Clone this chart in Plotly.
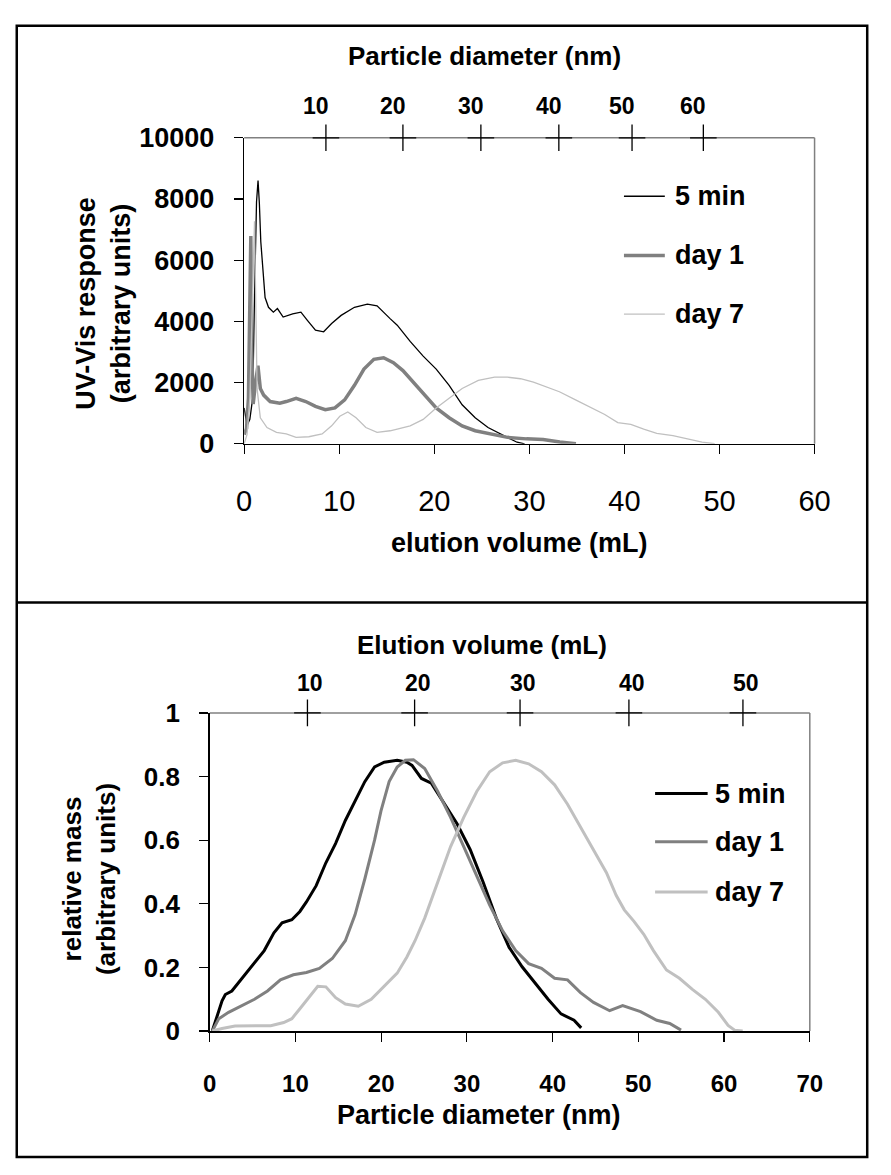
import plotly.graph_objects as go

# ---------------- data: top panel (UV-Vis vs elution volume) ----------------
top_5min_ml = [0, 0.17, 0.3, 0.6, 0.9, 1.1, 1.3, 1.46, 1.6, 1.75, 1.98, 2.2, 2.56, 3.07, 3.5, 4.1, 5.1,
               5.97, 6.65, 7.5, 8.36, 9.2, 10.2, 11.6, 12.96, 13.98, 15.35, 16.1, 17.46, 18.83, 20.2,
               21.56, 22.93, 24.3, 25.65, 26.67, 27.7, 28.7, 29.5]
top_5min_uv = [1170, 850, 600, 800, 1500, 5000, 7900, 8600, 7850, 6600, 5520, 4780, 4460, 4300, 4420,
               4140, 4245, 4300, 4035, 3715, 3660, 3930, 4195, 4460, 4565, 4510, 4090, 3875, 3345, 2865,
               2440, 1910, 1275, 850, 530, 370, 210, 50, 0]

top_day1_ml = [0, 0.25, 0.45, 0.6, 0.7, 0.8, 0.95, 1.2, 1.45, 1.7, 2.05, 2.73, 3.75, 4.43, 5.46, 6.48,
               7.5, 8.53, 9.55, 10.57, 11.6, 12.6, 13.64, 14.67, 15.7, 16.7, 17.46, 18.83, 20.2, 21.56,
               22.93, 24.3, 26.0, 27.7, 29.7, 31.45, 33.2, 34.9]
top_day1_uv = [300, 500, 1500, 5000, 6790, 3000, 1300, 2000, 2550, 1805, 1590, 1380, 1325, 1380, 1485,
               1380, 1220, 1115, 1170, 1435, 1910, 2440, 2760, 2810, 2650, 2390, 2125, 1645, 1170, 850,
               585, 425, 320, 210, 160, 140, 55, 0]

top_day7_ml = [0, 0.3, 0.6, 0.85, 1.09, 1.25, 1.36, 1.7, 2.4, 3.4, 4.43, 5.46, 6.8, 8.2, 9.2, 10.06,
               10.9, 11.77, 12.8, 13.98, 15.35, 16.1, 17.46, 18.83, 20.2, 21.56, 22.93, 24.63, 26.34,
               27.7, 29.07, 30.43, 31.8, 33.16, 34.86, 36.57, 37.93, 39.3, 40.67, 42.03, 43.4, 45.1,
               46.8, 48.17, 49.5]
top_day7_uv = [0, 300, 1500, 4500, 7270, 4000, 1800, 850, 530, 370, 320, 210, 230, 320, 585, 900,
               1040, 850, 530, 370, 425, 480, 585, 795, 1170, 1485, 1805, 2070, 2175, 2175, 2125,
               2015, 1855, 1700, 1435, 1170, 955, 690, 635, 480, 340, 265, 160, 55, 0]

# secondary (top) axis of top panel: particle diameter ticks at elution volumes
top_axis_nm = [10, 20, 30, 40, 50, 60]
top_axis_ml = [8.6, 16.7, 24.9, 33.1, 40.8, 48.3]

# ---------------- data: bottom panel (relative mass vs diameter) ----------------
bot_5min_nm = [0.3, 0.87, 1.44, 1.82, 2.58, 3.33, 4.09, 5.22, 6.36, 7.49, 8.44, 9.58, 10.52, 11.28,
               12.42, 13.55, 14.69, 15.82, 16.96, 18.09, 19.23, 20.36, 21.87, 23.0, 23.6, 24.7, 25.85,
               27.36, 28.87, 30.39, 31.9, 33.42, 34.93, 36.44, 37.96, 39.47, 40.98, 42.5, 43.33]
bot_5min_m = [0, 0.049, 0.095, 0.115, 0.126, 0.151, 0.177, 0.212, 0.253, 0.309, 0.34, 0.35, 0.376,
              0.406, 0.457, 0.529, 0.59, 0.662, 0.723, 0.784, 0.83, 0.845, 0.851, 0.845, 0.835, 0.794,
              0.779, 0.713, 0.651, 0.57, 0.468, 0.355, 0.263, 0.202, 0.151, 0.1, 0.054, 0.034, 0.01]

bot_day1_nm = [0.3, 1.06, 2.2, 3.71, 5.22, 6.74, 8.25, 9.76, 11.28, 12.79, 14.3, 15.82, 16.96, 18.09,
               19.23, 19.98, 20.93, 21.87, 22.82, 23.77, 25.08, 26.6, 28.1, 29.63, 31.15, 32.66, 34.17,
               35.69, 37.2, 38.7, 40.23, 41.74, 43.25, 44.77, 46.65, 48.17, 50.25, 52.15, 53.66, 54.98]
bot_day1_m = [0, 0.039, 0.059, 0.08, 0.1, 0.126, 0.161, 0.177, 0.184, 0.197, 0.228, 0.284, 0.366,
              0.478, 0.6, 0.692, 0.784, 0.83, 0.851, 0.853, 0.825, 0.753, 0.672, 0.58, 0.488, 0.396,
              0.315, 0.253, 0.212, 0.197, 0.166, 0.161, 0.121, 0.09, 0.064, 0.08, 0.061, 0.034, 0.024,
              0.003]

bot_day7_nm = [0.3, 1.44, 2.95, 4.85, 7.12, 8.63, 9.58, 10.52, 11.66, 12.6, 13.55, 14.69, 15.82, 17.33,
               18.84, 20.36, 21.87, 23.0, 23.95, 25.08, 26.6, 28.1, 29.63, 31.15, 32.66, 34.17, 35.69,
               37.2, 38.7, 40.23, 41.74, 43.25, 44.77, 46.28, 47.41, 48.36, 49.49, 50.63, 51.76, 53.28,
               54.79, 56.3, 57.82, 59.33, 60.47, 61.23, 62.17]
bot_day7_m = [0, 0.008, 0.016, 0.017, 0.017, 0.027, 0.039, 0.07, 0.11, 0.141, 0.139, 0.105, 0.085,
              0.078, 0.1, 0.141, 0.182, 0.233, 0.284, 0.355, 0.468, 0.58, 0.672, 0.753, 0.815, 0.843,
              0.851, 0.84, 0.815, 0.774, 0.713, 0.641, 0.57, 0.498, 0.427, 0.381, 0.345, 0.304, 0.253,
              0.192, 0.166, 0.131, 0.1, 0.059, 0.018, 0.003, 0]

# secondary (top) axis of bottom panel: elution volume ticks at particle diameters
bot_axis_ml = [10, 20, 30, 40, 50]
bot_axis_nm = [11.4, 23.9, 36.2, 48.9, 62.2]

series_names = ["5 min", "day 1", "day 7"]

# ---------------- styling ----------------
W, H = 891, 1175
FONT = "Liberation Sans, Arial, sans-serif"
BLACK = "#000000"
MID = "#808080"
LIGHT = "#c0c0c0"
colors = [BLACK, MID, LIGHT]
top_widths = [1.3, 3.5, 1.3]
bot_widths = [3, 3, 3]


def px(x):
    return x / W


def py(y):
    return 1 - y / H


fig = go.Figure()

top_x = [top_5min_ml, top_day1_ml, top_day7_ml]
top_y = [top_5min_uv, top_day1_uv, top_day7_uv]
for name, xs, ys, c, w in zip(series_names, top_x, top_y, colors, top_widths):
    fig.add_trace(go.Scatter(x=xs, y=ys, mode="lines", name=name, showlegend=False,
                             line=dict(color=c, width=w), xaxis="x", yaxis="y"))

bot_x = [bot_5min_nm, bot_day1_nm, bot_day7_nm]
bot_y = [bot_5min_m, bot_day1_m, bot_day7_m]
for name, xs, ys, c, w in zip(series_names, bot_x, bot_y, colors, bot_widths):
    fig.add_trace(go.Scatter(x=xs, y=ys, mode="lines", name=name, showlegend=False,
                             line=dict(color=c, width=w), xaxis="x2", yaxis="y2"))

# top-axis "+" markers
fig.add_trace(go.Scatter(x=top_axis_ml, y=[10000] * len(top_axis_ml), mode="markers",
                         showlegend=False, cliponaxis=False, xaxis="x", yaxis="y",
                         marker=dict(symbol="cross-thin", size=19, line=dict(color=BLACK, width=1.3))))
fig.add_trace(go.Scatter(x=bot_axis_nm, y=[1] * len(bot_axis_nm), mode="markers",
                         showlegend=False, cliponaxis=False, xaxis="x2", yaxis="y2",
                         marker=dict(symbol="cross-thin", size=19, line=dict(color=BLACK, width=1.3))))

axis_common = dict(showgrid=False, zeroline=False, showline=True, linecolor=BLACK, linewidth=1.5,
                   ticks="outside", tickcolor=BLACK, tickwidth=1.2, ticklen=9, fixedrange=True)

layout = dict(
    width=W, height=H, margin=dict(l=0, r=0, t=0, b=0),
    paper_bgcolor="white", plot_bgcolor="rgba(0,0,0,0)",
    font=dict(family=FONT, color=BLACK),
    hovermode=False,
    xaxis=dict(domain=[px(242.7), px(828.9)], range=[0, 60], dtick=10, anchor="y",
               tickfont=dict(size=29, family=FONT), ticklabelstandoff=22, **axis_common),
    yaxis=dict(domain=[py(440), py(126)], range=[0, 10000], dtick=2000, anchor="x", tickformat="d",
               tickfont=dict(size=27, family=FONT, weight="bold"), ticklabelstandoff=14, **axis_common),
    xaxis2=dict(domain=[px(207.3), px(824.0)], range=[0, 70], dtick=10, anchor="y2",
                tickfont=dict(size=24, family=FONT, weight="bold"), ticklabelstandoff=22, **axis_common),
    yaxis2=dict(domain=[py(1042.7), py(716.2)], range=[0, 1], dtick=0.2, anchor="x2",
                tickfont=dict(size=26, family=FONT, weight="bold"), ticklabelstandoff=14, **axis_common),
)
fig.update_layout(**layout)

shapes = []
# gray plot-area borders (top + right), under the data and the "+" marks
for xr, yr in (("x domain", "y domain"), ("x2 domain", "y2 domain")):
    shapes.append(dict(type="line", xref=xr, yref=yr, x0=0, x1=1, y0=1, y1=1, layer="below",
                       line=dict(color=MID, width=1.5)))
    shapes.append(dict(type="line", xref=xr, yref=yr, x0=1, x1=1, y0=0, y1=1, layer="below",
                       line=dict(color=MID, width=1.5)))
# outer frame and divider
shapes.append(dict(type="rect", xref="paper", yref="paper", x0=px(9), x1=px(883), y0=py(1172), y1=py(11),
                   line=dict(color=BLACK, width=2.5), layer="below"))
shapes.append(dict(type="line", xref="paper", yref="paper", x0=px(9), x1=px(883), y0=py(603), y1=py(603),
                   line=dict(color=BLACK, width=2.5)))

annotations = []


def bold_text(text, x, y, size, xanchor="center", angle=0):
    annotations.append(dict(text=text, x=px(x), y=py(y), xref="paper", yref="paper", showarrow=False,
                            xanchor=xanchor, yanchor="middle", textangle=angle,
                            font=dict(size=size, family=FONT, color=BLACK, weight="bold")))


# top panel texts
bold_text("Particle diameter (nm)", 490, 42, 26)
bold_text("elution volume (mL)", 526, 542, 27)
bold_text("UV-Vis response<br>(arbitrary units)", 98, 296, 27, angle=-90)
for lab, v in zip(top_axis_nm, top_axis_ml):
    annotations.append(dict(text=str(lab), x=v, y=10000, xref="x", yref="y", showarrow=False,
                            xanchor="center", yanchor="middle", xshift=-10, yshift=32,
                            font=dict(size=23, family=FONT, color=BLACK, weight="bold")))

# bottom panel texts
bold_text("Elution volume (mL)", 487, 647, 26)
bold_text("Particle diameter (nm)", 484, 1129, 27)
bold_text("relative mass<br>(arbitrary units)", 84, 887, 26, angle=-90)
for lab, d in zip(bot_axis_ml, bot_axis_nm):
    annotations.append(dict(text=str(lab), x=d, y=1, xref="x2", yref="y2", showarrow=False,
                            xanchor="center", yanchor="middle", xshift=3, yshift=30,
                            font=dict(size=23, family=FONT, color=BLACK, weight="bold")))

# legends (drawn manually)
top_leg_y = [186, 246.7, 307]
bot_leg_y = [799, 848.5, 900]
for name, c, w, ly in zip(series_names, colors, top_widths, top_leg_y):
    shapes.append(dict(type="line", xref="paper", yref="paper", x0=px(633), x1=px(675), y0=py(ly), y1=py(ly),
                       line=dict(color=c, width=w)))
    bold_text(name, 683, ly, 27, xanchor="left")
for name, c, w, ly in zip(series_names, colors, bot_widths, bot_leg_y):
    shapes.append(dict(type="line", xref="paper", yref="paper", x0=px(665), x1=px(719), y0=py(ly), y1=py(ly),
                       line=dict(color=c, width=w)))
    bold_text(name, 725, ly, 27, xanchor="left")

fig.update_layout(shapes=shapes, annotations=annotations)

fig.write_html(
    "out.html",
    config={"displayModeBar": False, "staticPlot": True},
    post_script="document.body.style.margin='0';document.documentElement.style.overflow='hidden';"
                "document.body.style.overflow='hidden';",
)
